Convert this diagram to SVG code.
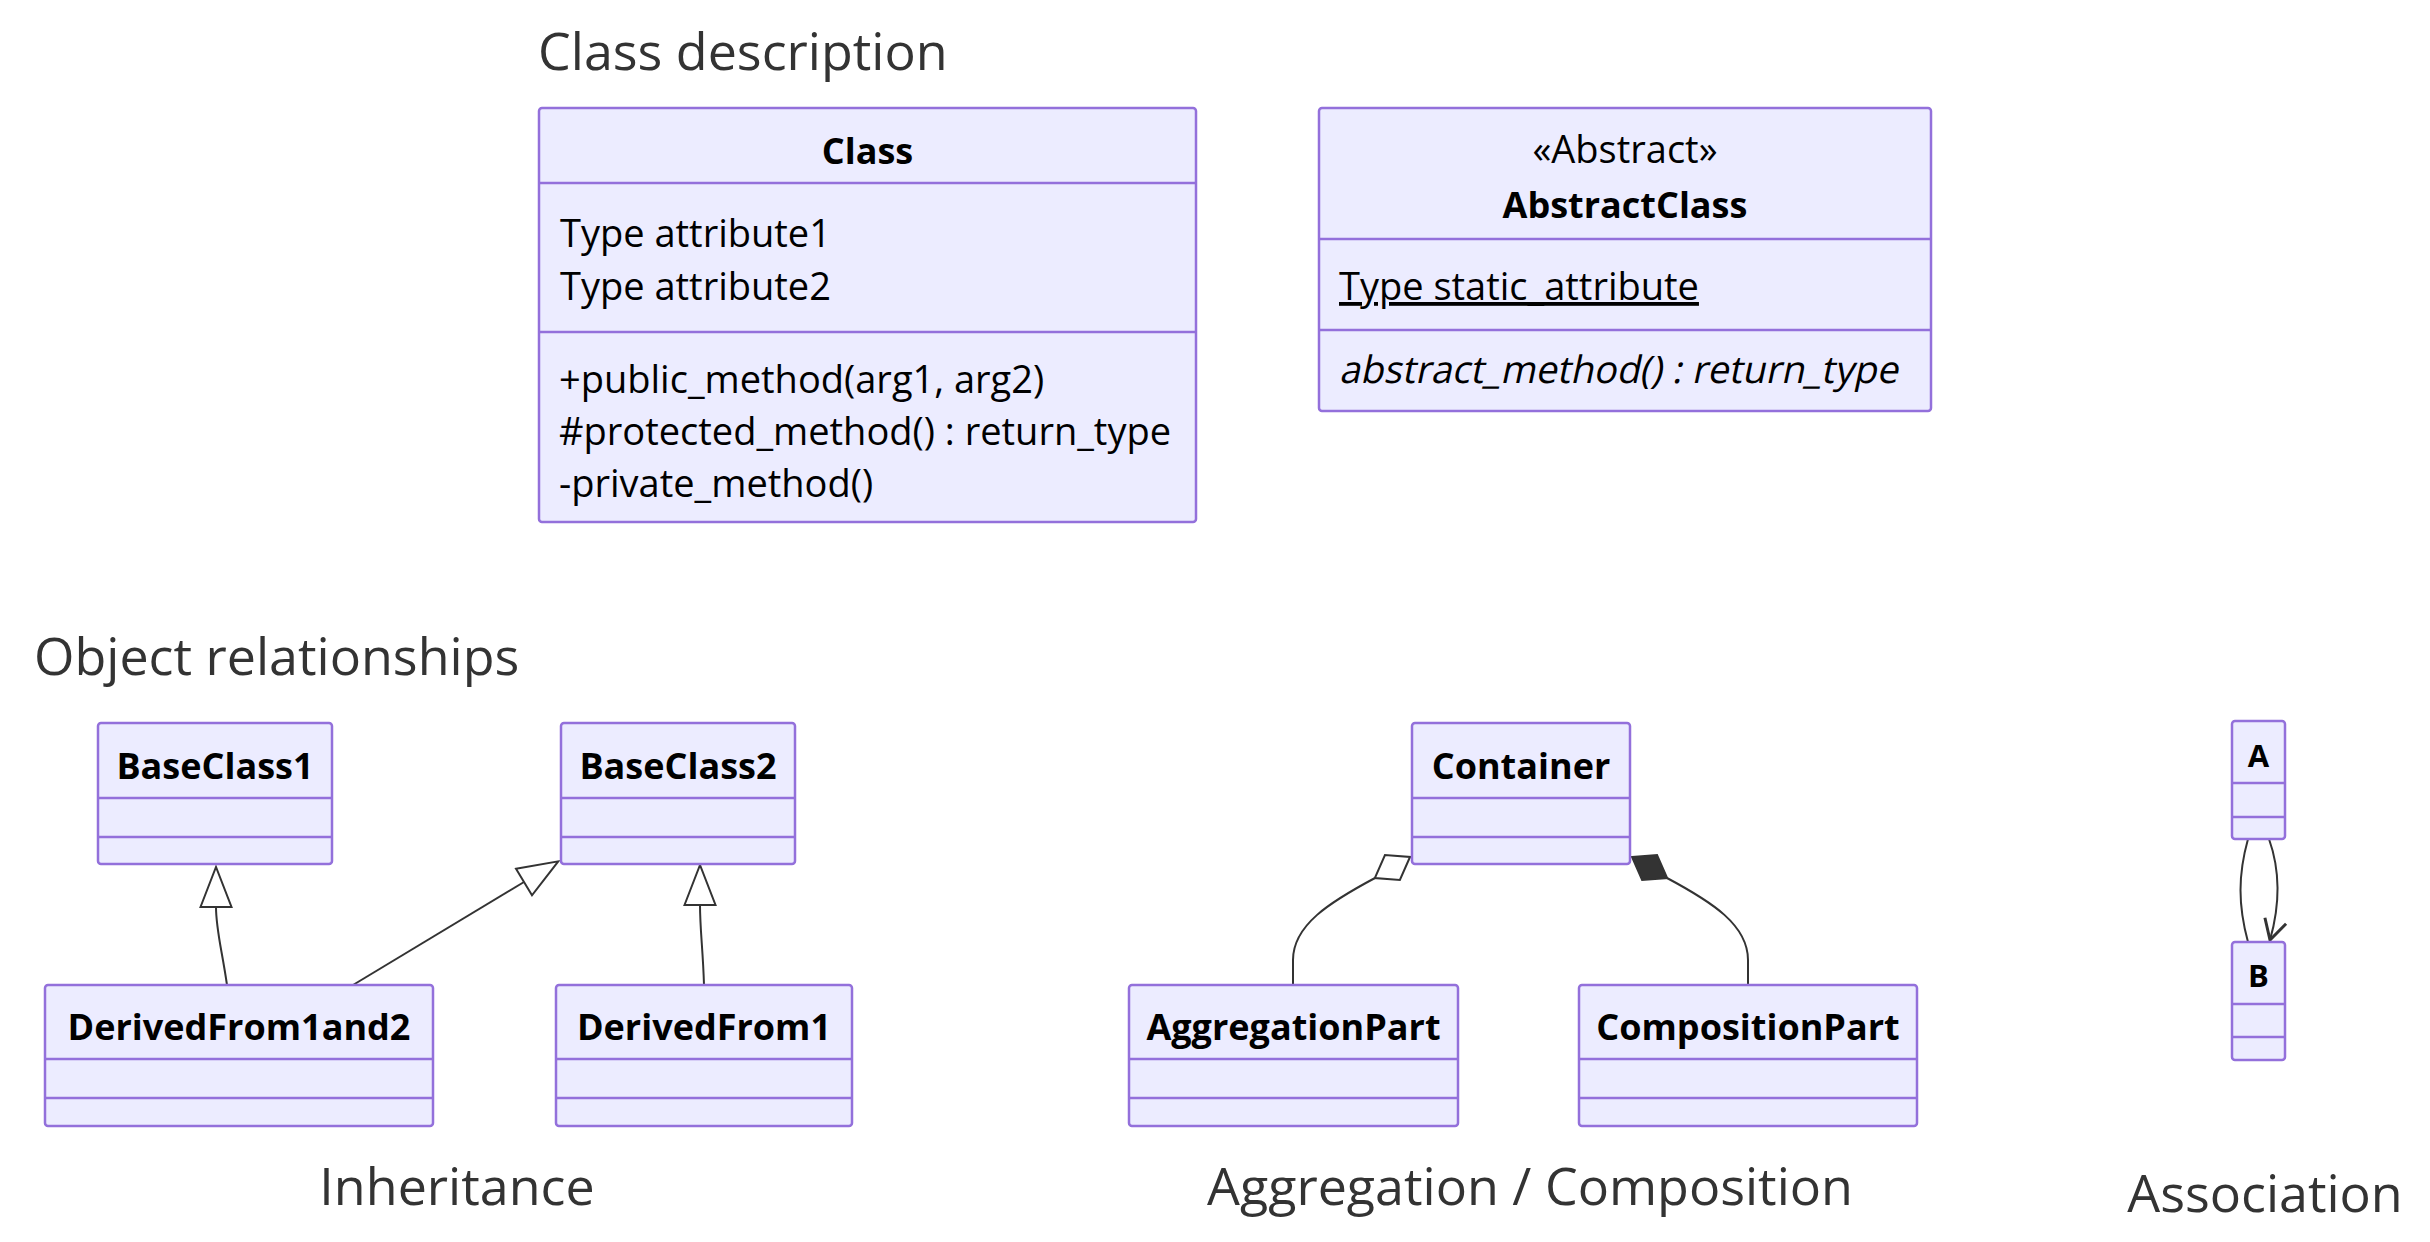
<svg xmlns="http://www.w3.org/2000/svg" width="2430" height="1242" viewBox="0 0 2430 1242">
<style>
.box{fill:#ECECFF;stroke:#9370DB;stroke-width:2.5}
.dv{stroke:#9370DB;stroke-width:2.5;fill:none}
.t{font-family:"Open Sans","Liberation Sans",sans-serif;font-size:38px;font-weight:500;fill:#000}
.h{font-family:"Open Sans","Liberation Sans",sans-serif;font-size:36px;font-weight:bold;fill:#000;text-anchor:middle}
.hs{font-family:"Open Sans","Liberation Sans",sans-serif;font-size:31px;font-weight:bold;fill:#000;text-anchor:middle}
.sec{font-family:"Open Sans","Liberation Sans",sans-serif;font-size:52px;font-weight:500;fill:#333}
.mid{text-anchor:middle}
.edge{fill:none;stroke:#333;stroke-width:2}
</style>
<defs>
<marker id="ext" markerUnits="userSpaceOnUse" viewBox="-3 -18 46 36" refX="0" refY="0" markerWidth="46" markerHeight="36" orient="auto">
<path d="M0,-15.5 L40,0 L0,15.5 Z" fill="#fff" stroke="#333" stroke-width="2"/>
</marker>
<marker id="agg" markerUnits="userSpaceOnUse" viewBox="-3 -17 47 34" refX="0" refY="0" markerWidth="47" markerHeight="34" orient="auto">
<path d="M0,0 L20.5,-14.5 L41,0 L20.5,14.5 Z" fill="#fff" stroke="#333" stroke-width="2"/>
</marker>
<marker id="comp" markerUnits="userSpaceOnUse" viewBox="-3 -17 47 34" refX="0" refY="0" markerWidth="47" markerHeight="34" orient="auto">
<path d="M0,0 L20.5,-14.5 L41,0 L20.5,14.5 Z" fill="#333" stroke="#333" stroke-width="2"/>
</marker>
<marker id="arr" markerUnits="userSpaceOnUse" viewBox="-26 -15 30 30" refX="0" refY="0" markerWidth="30" markerHeight="30" orient="auto">
<path d="M-20,-11 L0,0 L-20,11" fill="none" stroke="#333" stroke-width="3"/>
</marker>
</defs>

<rect width="2430" height="1242" fill="#fff"/>

<!-- section titles -->
<text class="sec" x="538" y="70">Class description</text>
<text class="sec" x="34" y="675">Object relationships</text>
<text class="sec mid" x="457" y="1205">Inheritance</text>
<text class="sec mid" x="1530" y="1205">Aggregation / Composition</text>
<text class="sec mid" x="2265" y="1212">Association</text>

<!-- connectors -->
<g id="connectors">
<path class="edge" d="M227,985 C222,950 216,930 216,907" marker-end="url(#ext)"/>
<path class="edge" d="M353,985 L524,882" marker-end="url(#ext)"/>
<path class="edge" d="M704,985 C703,950 700,930 700,905" marker-end="url(#ext)"/>
<path class="edge" d="M1410,857 L1375,878 C1330,902 1293,925 1293,960 L1293,985" marker-start="url(#agg)"/>
<path class="edge" d="M1632,857 L1667,878 C1712,902 1748,925 1748,960 L1748,985" marker-start="url(#comp)"/>
<path class="edge" d="M2248,839 C2238,875 2238,905 2248,942"/>
<path class="edge" d="M2269,839 C2280,870 2280,905 2270,940" marker-end="url(#arr)"/>
</g>

<!-- Class -->
<g id="node-Class">
<rect class="box" x="539" y="108" width="657" height="414" rx="3"/>
<line class="dv" x1="539" y1="183" x2="1196" y2="183"/>
<line class="dv" x1="539" y1="332" x2="1196" y2="332"/>
<text class="h" x="867.5" y="164">Class</text>
<text class="t" x="560" y="247">Type attribute1</text>
<text class="t" x="560" y="300">Type attribute2</text>
<text class="t" x="559" y="393">+public_method(arg1, arg2)</text>
<text class="t" x="559" y="445">#protected_method() : return_type</text>
<text class="t" x="559" y="497">-private_method()</text>
</g>

<!-- AbstractClass -->
<g id="node-AbstractClass">
<rect class="box" x="1319" y="108" width="612" height="303" rx="3"/>
<line class="dv" x1="1319" y1="239" x2="1931" y2="239"/>
<line class="dv" x1="1319" y1="330" x2="1931" y2="330"/>
<text class="t mid" x="1625" y="163">«Abstract»</text>
<text class="h" x="1625" y="218">AbstractClass</text>
<text class="t" x="1339" y="300" text-decoration="underline">Type static_attribute</text>
<g transform="translate(1339,383) skewX(-12)">
<text class="t" x="0" y="0">abstract_method() : return_type</text>
</g>
</g>

<!-- Inheritance -->
<g id="node-BaseClass1">
<rect class="box" x="98" y="723" width="234" height="141" rx="3"/>
<line class="dv" x1="98" y1="798" x2="332" y2="798"/>
<line class="dv" x1="98" y1="837" x2="332" y2="837"/>
<text class="h" x="215" y="779">BaseClass1</text>
</g>
<g id="node-BaseClass2">
<rect class="box" x="561" y="723" width="234" height="141" rx="3"/>
<line class="dv" x1="561" y1="798" x2="795" y2="798"/>
<line class="dv" x1="561" y1="837" x2="795" y2="837"/>
<text class="h" x="678" y="779">BaseClass2</text>
</g>
<g id="node-DerivedFrom1and2">
<rect class="box" x="45" y="985" width="388" height="141" rx="3"/>
<line class="dv" x1="45" y1="1059" x2="433" y2="1059"/>
<line class="dv" x1="45" y1="1098" x2="433" y2="1098"/>
<text class="h" x="239" y="1040">DerivedFrom1and2</text>
</g>
<g id="node-DerivedFrom1">
<rect class="box" x="556" y="985" width="296" height="141" rx="3"/>
<line class="dv" x1="556" y1="1059" x2="852" y2="1059"/>
<line class="dv" x1="556" y1="1098" x2="852" y2="1098"/>
<text class="h" x="704" y="1040">DerivedFrom1</text>
</g>

<!-- Aggregation / Composition -->
<g id="node-Container">
<rect class="box" x="1412" y="723" width="218" height="141" rx="3"/>
<line class="dv" x1="1412" y1="798" x2="1630" y2="798"/>
<line class="dv" x1="1412" y1="837" x2="1630" y2="837"/>
<text class="h" x="1521" y="779">Container</text>
</g>
<g id="node-AggregationPart">
<rect class="box" x="1129" y="985" width="329" height="141" rx="3"/>
<line class="dv" x1="1129" y1="1059" x2="1458" y2="1059"/>
<line class="dv" x1="1129" y1="1098" x2="1458" y2="1098"/>
<text class="h" x="1293.5" y="1040">AggregationPart</text>
</g>
<g id="node-CompositionPart">
<rect class="box" x="1579" y="985" width="338" height="141" rx="3"/>
<line class="dv" x1="1579" y1="1059" x2="1917" y2="1059"/>
<line class="dv" x1="1579" y1="1098" x2="1917" y2="1098"/>
<text class="h" x="1748" y="1040">CompositionPart</text>
</g>

<!-- Association -->
<g id="node-A">
<rect class="box" x="2232" y="721" width="53" height="118" rx="3"/>
<line class="dv" x1="2232" y1="783" x2="2285" y2="783"/>
<line class="dv" x1="2232" y1="817" x2="2285" y2="817"/>
<text class="hs" x="2258.5" y="767">A</text>
</g>
<g id="node-B">
<rect class="box" x="2232" y="942" width="53" height="118" rx="3"/>
<line class="dv" x1="2232" y1="1004" x2="2285" y2="1004"/>
<line class="dv" x1="2232" y1="1037" x2="2285" y2="1037"/>
<text class="hs" x="2258.5" y="987">B</text>
</g>
</svg>
